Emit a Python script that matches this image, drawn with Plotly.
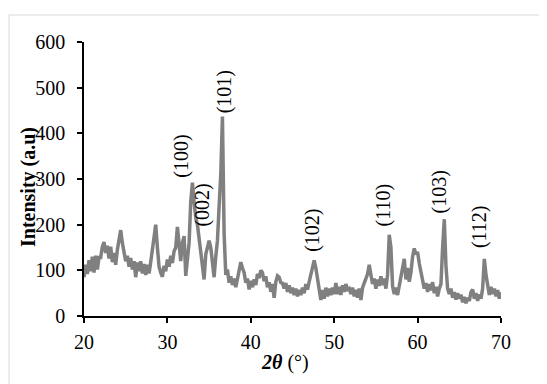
import numpy as np
import plotly.graph_objects as go

# 2-theta sampling grid (deg) and intensity
two_theta = [round(20.0 + 0.2 * i, 1) for i in range(251)]
intensity = [
    85, 112, 92, 122, 98, 130, 95, 132, 102, 128,           # 20.0-21.8
    128, 152, 162, 138, 154, 126, 152, 118, 138, 112,       # 22.0-23.8
    145, 170, 188, 160, 138, 120, 132, 108, 127, 102,       # 24.0-25.8
    120, 85, 117, 98, 120, 93, 114, 90, 112, 93,            # 26.0-27.8
    118, 150, 185, 200, 150, 108, 95, 86, 110, 98,          # 28.0-29.8
    124, 108, 132, 116, 142, 150, 195, 150, 120, 160,       # 30.0-31.8
    175, 88, 130, 160, 250, 292, 250, 215, 200, 175,        # 32.0-33.8
    140, 110, 80, 135, 155, 165, 150, 120, 85, 130,         # 34.0-35.8
    165, 240, 310, 437, 180, 90, 102, 73, 87, 68,           # 36.0-37.8
    82, 63, 85, 100, 118, 105, 95, 73, 82, 58,              # 38.0-39.8
    77, 63, 80, 68, 92, 83, 100, 95, 76, 87,                # 40.0-41.8
    63, 74, 53, 70, 40, 75, 88, 85, 73, 72,                 # 42.0-43.8
    60, 72, 53, 67, 50, 62, 46, 60, 43, 57,                 # 44.0-45.8
    46, 62, 50, 70, 58, 75, 90, 110, 122, 105,              # 46.0-47.8
    80, 60, 35, 57, 38, 62, 43, 60, 46, 62,                 # 48.0-49.8
    48, 72, 48, 64, 46, 67, 53, 70, 58, 60,                 # 50.0-51.8
    48, 62, 43, 57, 40, 60, 35, 62, 70, 82,                 # 52.0-53.8
    92, 112, 90, 70, 82, 60, 80, 66, 87, 68,                # 54.0-55.8
    82, 60, 90, 178, 150, 65, 48, 62, 46, 67,               # 56.0-57.8
    80, 110, 125, 80, 105, 75, 95, 130, 148, 135,           # 58.0-59.8
    140, 115, 95, 70, 60, 72, 53, 70, 56, 74,               # 60.0-61.8
    50, 64, 43, 60, 70, 150, 212, 110, 60, 48,              # 62.0-63.8
    60, 40, 52, 36, 50, 38, 47, 30, 42, 28,                 # 64.0-65.8
    40, 33, 52, 58, 38, 50, 33, 47, 38, 60,                 # 66.0-67.8
    125, 90, 60, 46, 64, 48, 60, 43, 57, 38,                # 68.0-69.8
    52,                                                     # 70.0
]

# Miller index labels and their positions
hkl_labels = ["(100)", "(002)", "(101)", "(102)", "(110)", "(103)", "(112)"]
hkl_x = [31.7, 34.1, 36.8, 47.3, 55.9, 62.6, 67.5]
hkl_y = [350, 243, 490, 188, 243, 271, 195]

x_ticks = [20, 30, 40, 50, 60, 70]
y_ticks = [0, 100, 200, 300, 400, 500, 600]

FONT = "Liberation Serif, Tinos, DejaVu Serif, serif"

# page offset of plotly's html body (8 px) compensated in margins
L, T, PW, PH = 84 - 8, 42 - 8, 417, 274
W, H = 547, 384

fig = go.Figure()
fig.add_trace(go.Scatter(
    x=two_theta, y=intensity, mode="lines",
    line=dict(color="#808080", width=3.5),
    showlegend=False, hoverinfo="skip",
))

def px(xp):  # screen x pixel -> paper
    return (xp - 84) / PW

def py(yp):  # screen y pixel -> paper
    return (316 - yp) / PH

annotations = []
for lab, xx, yy in zip(hkl_labels, hkl_x, hkl_y):
    annotations.append(dict(
        x=xx, y=yy, xref="x", yref="y", text=lab, showarrow=False,
        textangle=-90, xanchor="center", yanchor="middle",
        font=dict(family=FONT, size=20, color="black"),
    ))

annotations.append(dict(
    x=px(28), y=py(187), xref="paper", yref="paper", text="<b>Intensity (a.u)</b>",
    showarrow=False, textangle=-90, xanchor="center", yanchor="middle",
    font=dict(family=FONT, size=20, color="black"),
))
annotations.append(dict(
    x=px(285), y=py(362), xref="paper", yref="paper", text="<b><i>2θ</i></b> (°)",
    showarrow=False, xanchor="center", yanchor="middle",
    font=dict(family=FONT, size=20, color="black"),
))

fig.update_layout(
    width=W, height=H,
    margin=dict(l=L, r=W - L - PW, t=T, b=H - T - PH, pad=0),
    paper_bgcolor="white", plot_bgcolor="white",
    font=dict(family=FONT, size=20, color="black"),
    annotations=annotations,
    shapes=[dict(
        type="rect", xref="paper", yref="paper",
        x0=px(9), x1=px(549), y0=py(386), y1=py(15),
        line=dict(color="#d9d9d9", width=1), fillcolor="rgba(0,0,0,0)",
        layer="below",
    )],
    xaxis=dict(
        range=[20, 70], tickvals=x_ticks, showgrid=False, zeroline=False,
        showline=True, linecolor="black", linewidth=1.5,
        ticks="outside", ticklen=5, tickwidth=1.5, tickcolor="black",
        ticklabelstandoff=2,
        tickfont=dict(family=FONT, size=20, color="black"),
    ),
    yaxis=dict(
        range=[0, 600], tickvals=y_ticks, showgrid=False, zeroline=False,
        showline=True, linecolor="black", linewidth=1.5,
        ticks="outside", ticklen=5, tickwidth=1.5, tickcolor="black",
        ticklabelstandoff=8,
        tickfont=dict(family=FONT, size=20, color="black"),
    ),
)

fig.write_html("out.html")
